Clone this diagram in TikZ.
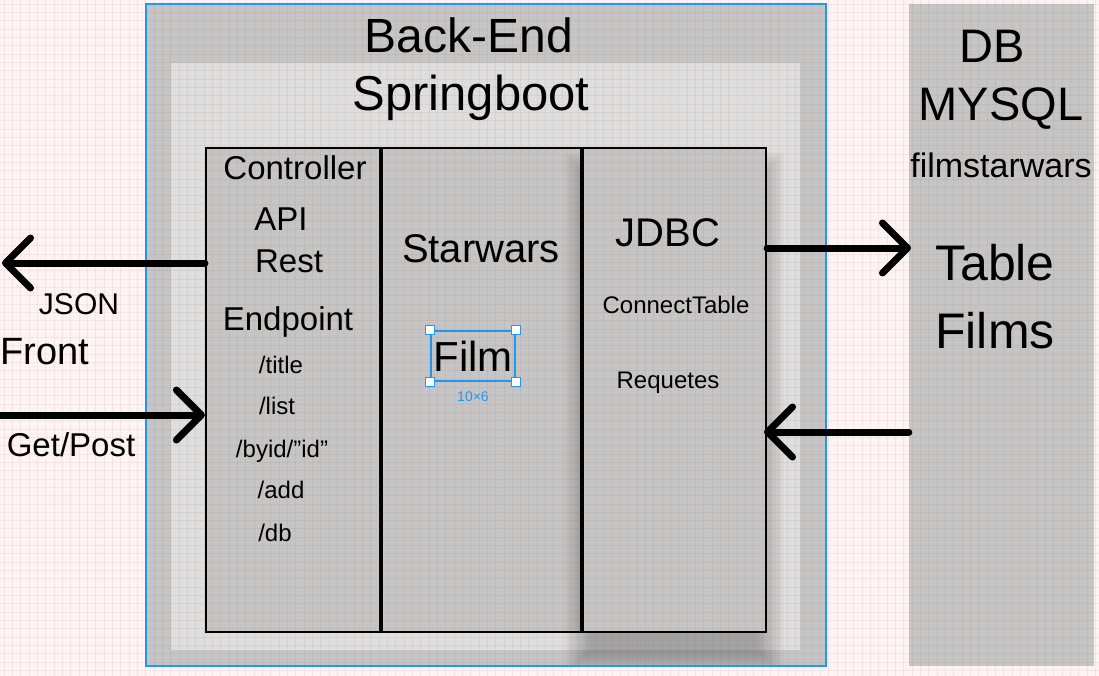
\documentclass[tikz,border=0pt]{standalone}
\usepackage{fontspec}
\setmainfont{Liberation Sans}
\usepackage{tikz}
\usetikzlibrary{arrows.meta}
\definecolor{bgpink}{RGB}{253,243,243}
\definecolor{boxgray}{RGB}{197,197,197}
\definecolor{innergray}{RGB}{222,222,222}
\definecolor{selblue}{RGB}{33,150,243}
\definecolor{gridred}{RGB}{150,60,60}
\newcommand\fsz[1]{\fontsize{#1}{#1}\selectfont}
\tikzstyle{every node}=[inner sep=0pt]
\tikzstyle{lbl}=[anchor=base]
\tikzstyle{col}=[draw=black, line width=2.2pt, fill=boxgray, minimum height=484pt]
\tikzstyle{gridline}=[draw=gridred, opacity=0.075, line width=1pt]
\tikzstyle{flow}=[line width=7pt, line cap=round, -{Straight Barb[round,length=25pt,width=50pt]}]
\tikzstyle{handle}=[draw=selblue, fill=white, line width=1pt, minimum size=9pt]

\begin{document}
\begin{tikzpicture}[x=1pt,y=-1pt]
\useasboundingbox (0,0) rectangle (1099,676);
\fill[bgpink] (0,0) rectangle (1099,676);

\begin{scope}
  \fill[boxgray] (146,4) rectangle (826,666);
  \fill[innergray] (171,63) rectangle (800,650);
  \node[col, minimum width=174pt] (ctrl) at (293,390) {};
  \node[col, minimum width=199pt] (swars) at (481.5,390) {};
  \begin{scope}
    \clip (146,4) rectangle (826,666);
    \foreach \s in {1,...,14}
      \fill[black,opacity=0.021] (592-2*\s,180-2*\s) rectangle (756+2*\s,648+2*\s);
  \end{scope}
  \node[col, minimum width=183pt] (jdbc) at (674.5,390) {};
  \node[fill=boxgray, minimum width=185pt, minimum height=662pt] (db) at (1001.5,335) {};
\end{scope}

\foreach \i in {0,...,131}
  \draw[gridline] (4.2+8.33*\i,0) -- (4.2+8.33*\i,676);
\foreach \j in {0,...,80}
  \draw[gridline] (0,4.2+8.33*\j) -- (1099,4.2+8.33*\j);

\draw[selblue, line width=2.8pt] (146,4) rectangle (826,666);

\coordinate (jsonend) at (2,263);
\coordinate (getstart) at (-6,415);
\coordinate (tabin) at (911,248);
\coordinate (reqin) at (764,432);
\draw[flow] (ctrl.west |- jsonend) -- (jsonend);
\draw[flow] (getstart) -- (ctrl.west |- getstart);
\draw[flow] (jdbc.east |- tabin) -- (tabin);
\draw[flow] (db.west |- reqin) -- (reqin);

\node[lbl, font=\fsz{48}] (backend) at (469,53) {Back-End};
\node[lbl, font=\fsz{49}] (spring) at (471,111) {Springboot};

\node[lbl, font=\fsz{47}] (dbname) at (992,63) {DB};
\node[lbl, font=\fsz{47}] (mysql) at (1001,121) {MYSQL};
\node[lbl, font=\fsz{34}] (schema) at (1001,178) {filmstarwars};
\node[lbl, font=\fsz{50}] (table) at (995,280) {Table};
\node[lbl, font=\fsz{50}] (films) at (995,348) {Films};

\node[lbl, font=\fsz{33}] (ctrltitle) at (295,180) {Controller};
\node[lbl, font=\fsz{33}] (api) at (281,231) {API};
\node[lbl, font=\fsz{33}] (rest) at (289,272) {Rest};
\node[lbl, font=\fsz{33}] (endpoint) at (288,330) {Endpoint};
\node[lbl, font=\fsz{24}] (eptitle) at (281,373) {/title};
\node[lbl, font=\fsz{24}] (eplist) at (277,414) {/list};
\node[lbl, font=\fsz{24}] (epbyid) at (282,457) {/byid/”id”};
\node[lbl, font=\fsz{24}] (epadd) at (281,498) {/add};
\node[lbl, font=\fsz{24}] (epdb) at (275,541) {/db};

\node[lbl, font=\fsz{40}] (swtitle) at (481,262) {Starwars};
\node[draw=selblue, line width=1.2pt, minimum width=84pt, minimum height=50pt, font=\fsz{42}] (film) at (473,356) {Film};
\foreach \c/\n in {north west/nw,north east/ne,south west/sw,south east/se}
  \node[handle] (h\n) at (film.\c) {};
\node[font=\fsz{14}, text=selblue] (filmsize) at (473,397) {10×6};

\node[lbl, font=\fsz{40}] (jdbctitle) at (668,247) {JDBC};
\node[lbl, font=\fsz{24}] (connect) at (676,313) {ConnectTable};
\node[lbl, font=\fsz{24}] (requetes) at (668,388) {Requetes};

\node[lbl, font=\fsz{30}] (json) at (79,314) {JSON};
\node[lbl, font=\fsz{38}] (front) at (45,364) {Front};
\node[lbl, font=\fsz{33}] (getpost) at (71,456) {Get/Post};
\end{tikzpicture}
\end{document}
